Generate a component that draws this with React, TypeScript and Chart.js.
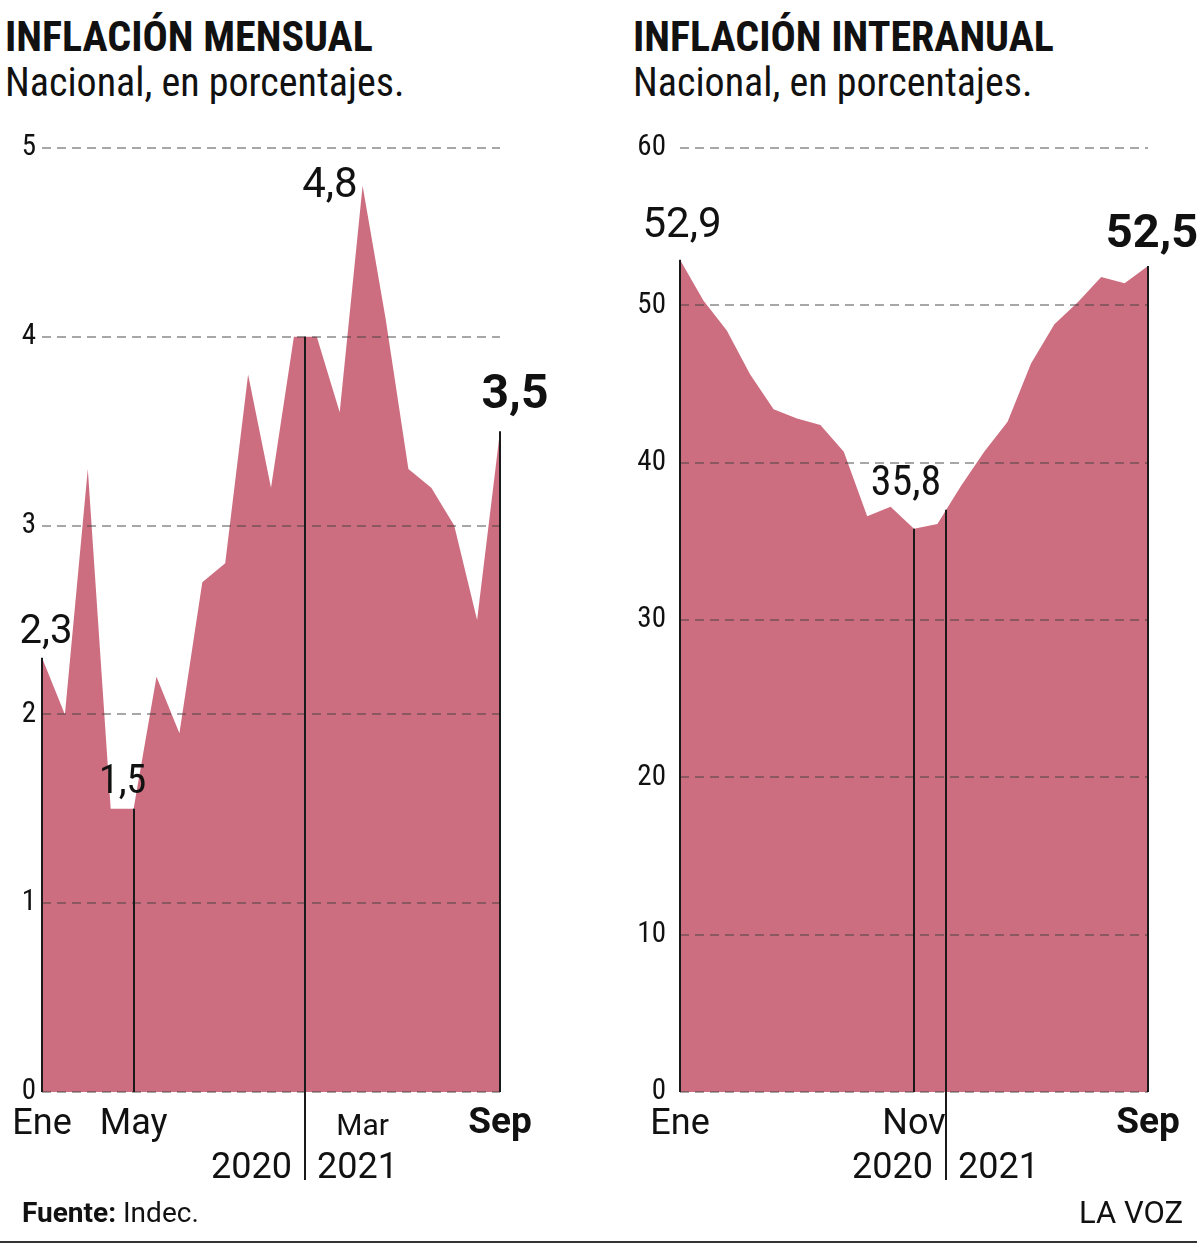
import React, { useEffect, useRef } from "react";
import { Chart, registerables } from "chart.js";

Chart.register(...registerables);

// ---------- data ----------
const MONTHS = [
  "Ene", "Feb", "Mar", "Abr", "May", "Jun", "Jul", "Ago", "Sep", "Oct", "Nov", "Dic",
  "Ene", "Feb", "Mar", "Abr", "May", "Jun", "Jul", "Ago", "Sep",
];
const YEARS = ["2020", "2021"];

const MONTHLY = [2.3, 2.0, 3.3, 1.5, 1.5, 2.2, 1.9, 2.7, 2.8, 3.8, 3.2, 4.0, 4.0, 3.6, 4.8, 4.1, 3.3, 3.2, 3.0, 2.5, 3.5];
const INTERANNUAL = [52.9, 50.3, 48.4, 45.6, 43.4, 42.8, 42.4, 40.7, 36.6, 37.2, 35.8, 36.1, 38.5, 40.7, 42.6, 46.3, 48.8, 50.2, 51.8, 51.4, 52.5];

const MONTHLY_Y_TICKS = [0, 1, 2, 3, 4, 5];
const INTERANNUAL_Y_TICKS = [0, 10, 20, 30, 40, 50, 60];

const MONTHLY_X_TICKS = [0, 4, 14, 20];
const INTERANNUAL_X_TICKS = [0, 10, 20];

const MONTHLY_MARKS = [0, 4, 20];
const INTERANNUAL_MARKS = [0, 10, 20];

const MONTHLY_VALUE_LABELS = [0, 4, 14, 20];
const INTERANNUAL_VALUE_LABELS = [0, 10, 20];

// ---------- styles ----------
const FILL = "rgb(204,110,128)";
const INK = "#111";
const FONT = "Roboto";

type LabelStyle = { dx: number; dy: number; align: CanvasTextAlign; size: number; bold?: boolean; condensed?: boolean };

const MONTHLY_LABEL_STYLE: Record<number, LabelStyle> = {
  0: { dx: 4, dy: -15, align: "center", size: 40, condensed: true },
  4: { dx: -11, dy: -16, align: "center", size: 40, condensed: true },
  14: { dx: -5, dy: 11, align: "right", size: 42, condensed: true },
  20: { dx: 15, dy: -23, align: "center", size: 48, bold: true },
};
const INTERANNUAL_LABEL_STYLE: Record<number, LabelStyle> = {
  0: { dx: 2, dy: -23, align: "center", size: 42, condensed: true },
  10: { dx: -8, dy: -34, align: "center", size: 42, condensed: true },
  20: { dx: 4, dy: -19, align: "center", size: 47, bold: true },
};

const fmt = (v: number) => v.toFixed(1).replace(".", ",");

type Cfg = {
  values: number[];
  yTicks: number[];
  xTicks: number[];
  marks: number[];
  valueLabels: number[];
  labelStyle: Record<number, LabelStyle>;
  sep: number;
  smallTick?: number;
  yAxisWidth: number;
  tickPad: number;
  padRight: number;
};

function annotPlugin(cfg: Cfg) {
  return {
    id: "annot",
    beforeDraw(chart: any) {
      chart.ctx.fontStretch = "condensed";
    },
    afterDatasetsDraw(chart: any) {
      chart.ctx.fontStretch = "normal";
    },
    afterDraw(chart: any) {
      const ctx = chart.ctx as CanvasRenderingContext2D & { fontStretch: string };
      const xs = chart.scales.x;
      const ys = chart.scales.y;
      const vals = cfg.values;
      const y0 = ys.getPixelForValue(0);
      ctx.save();
      ctx.strokeStyle = "#1a1a1a";
      ctx.lineWidth = 2;
      for (const i of cfg.marks) {
        const px = Math.round(xs.getPixelForValue(i));
        ctx.beginPath();
        ctx.moveTo(px, ys.getPixelForValue(vals[i]));
        ctx.lineTo(px, y0);
        ctx.stroke();
      }
      // year separator
      const i0 = Math.floor(cfg.sep);
      const v = vals[i0] + (vals[i0 + 1] - vals[i0]) * (cfg.sep - i0);
      const sx = Math.round(xs.getPixelForValue(cfg.sep));
      ctx.beginPath();
      ctx.moveTo(sx, ys.getPixelForValue(v));
      ctx.lineTo(sx, y0 + 88);
      ctx.stroke();

      ctx.fillStyle = INK;
      ctx.fontStretch = "normal";
      ctx.font = `36px ${FONT}`;
      ctx.textBaseline = "alphabetic";
      ctx.textAlign = "right";
      ctx.fillText(YEARS[0], sx - 13, y0 + 86);
      ctx.textAlign = "left";
      ctx.fillText(YEARS[1], sx + 12, y0 + 86);

      for (const i of cfg.valueLabels) {
        const st = cfg.labelStyle[i];
        ctx.fontStretch = st.condensed ? "condensed" : "normal";
        ctx.font = `${st.bold ? "bold " : ""}${st.size}px ${FONT}`;
        ctx.textAlign = st.align;
        ctx.fillText(fmt(vals[i]), xs.getPixelForValue(i) + st.dx, ys.getPixelForValue(vals[i]) + st.dy);
      }
      ctx.restore();
    },
  };
}

function AreaChart({ cfg, left }: { cfg: Cfg; left: number }) {
  const ref = useRef<HTMLCanvasElement>(null);
  useEffect(() => {
    const canvas = ref.current!;
    const step = cfg.yTicks[1] - cfg.yTicks[0];
    const chart = new Chart(canvas, {
      type: "line",
      data: {
        labels: MONTHS,
        datasets: [
          {
            data: cfg.values,
            fill: "origin",
            backgroundColor: FILL,
            borderWidth: 0,
            pointRadius: 0,
            tension: 0,
          },
        ],
      },
      options: {
        animation: false,
        responsive: false,
        devicePixelRatio: 1,
        layout: { padding: { top: 48, right: cfg.padRight, bottom: 0, left: 0 } },
        plugins: { legend: { display: false }, tooltip: { enabled: false } },
        scales: {
          x: {
            type: "category",
            offset: false,
            grid: { display: false, drawTicks: false },
            border: { display: false },
            afterFit: (s: any) => {
              s.height = 108;
            },
            ticks: {
              autoSkip: false,
              maxRotation: 0,
              minRotation: 0,
              padding: 10,
              color: INK,
              callback: (_v: any, i: number) => (cfg.xTicks.includes(i) ? MONTHS[i] : ""),
              font: (c: any) => {
                const i = c.index;
                if (i === MONTHS.length - 1) return { family: FONT, size: 37, weight: "bold", lineHeight: 1.2 };
                if (i === cfg.smallTick) return { family: FONT, size: 30, lineHeight: 1.68 };
                return { family: FONT, size: 36, lineHeight: 1.25 };
              },
            },
          },
          y: {
            z: 1,
            min: cfg.yTicks[0],
            max: cfg.yTicks[cfg.yTicks.length - 1],
            afterFit: (s: any) => {
              s.width = cfg.yAxisWidth;
            },
            grid: { z: 1, color: "rgba(60,60,60,0.45)", lineWidth: 2, drawTicks: false },
            border: { display: false, dash: [9, 6] },
            ticks: {
              stepSize: step,
              padding: cfg.tickPad,
              color: INK,
              font: { family: FONT, size: 29 },
            },
          },
        },
      },
      plugins: [annotPlugin(cfg)],
    });
    return () => chart.destroy();
  }, [cfg]);
  return (
    <canvas
      ref={ref}
      width={600}
      height={1100}
      style={{ position: "absolute", left, top: 100, width: 600, height: 1100, display: "block" }}
    />
  );
}

const MONTHLY_CFG: Cfg = {
  values: MONTHLY,
  yTicks: MONTHLY_Y_TICKS,
  xTicks: MONTHLY_X_TICKS,
  marks: MONTHLY_MARKS,
  valueLabels: MONTHLY_VALUE_LABELS,
  labelStyle: MONTHLY_LABEL_STYLE,
  sep: 11.5,
  smallTick: 14,
  yAxisWidth: 42,
  tickPad: 6,
  padRight: 100,
};
const INTERANNUAL_CFG: Cfg = {
  values: INTERANNUAL,
  yTicks: INTERANNUAL_Y_TICKS,
  xTicks: INTERANNUAL_X_TICKS,
  marks: INTERANNUAL_MARKS,
  valueLabels: INTERANNUAL_VALUE_LABELS,
  labelStyle: INTERANNUAL_LABEL_STYLE,
  sep: 11.375,
  yAxisWidth: 80,
  tickPad: 14,
  padRight: 52,
};

function Txt(props: {
  left?: number;
  right?: number;
  top: number;
  size: number;
  bold?: boolean;
  condensed?: boolean;
  children: React.ReactNode;
}) {
  const { left, right, top, size, bold, condensed, children } = props;
  return (
    <div
      style={{
        position: "absolute",
        left,
        right,
        top,
        fontFamily: FONT,
        fontSize: size,
        lineHeight: `${size}px`,
        fontWeight: bold ? 700 : 400,
        fontStretch: condensed ? "condensed" : "normal",
        whiteSpace: "nowrap",
        color: INK,
      }}
    >
      {children}
    </div>
  );
}

export default function App() {
  useEffect(() => {
    document.body.style.margin = "0";
    document.body.style.background = "#fff";
  }, []);
  return (
    <div style={{ position: "relative", width: 1200, height: 1248, overflow: "hidden", background: "#fff" }}>
      <Txt left={5} top={16} size={42} bold condensed>
        INFLACIÓN MENSUAL
      </Txt>
      <Txt left={5} top={63} size={40} condensed>
        Nacional, en porcentajes.
      </Txt>
      <Txt left={633} top={16} size={42} bold condensed>
        INFLACIÓN INTERANUAL
      </Txt>
      <Txt left={633} top={63} size={40} condensed>
        Nacional, en porcentajes.
      </Txt>

      <AreaChart cfg={MONTHLY_CFG} left={0} />
      <AreaChart cfg={INTERANNUAL_CFG} left={600} />

      <Txt left={22} top={1199} size={28}>
        <b>Fuente:</b> Indec.
      </Txt>
      <Txt right={17} top={1197} size={31}>
        LA VOZ
      </Txt>
      <div style={{ position: "absolute", left: 0, top: 1241, width: 1197, height: 2, background: "#333" }} />
    </div>
  );
}
